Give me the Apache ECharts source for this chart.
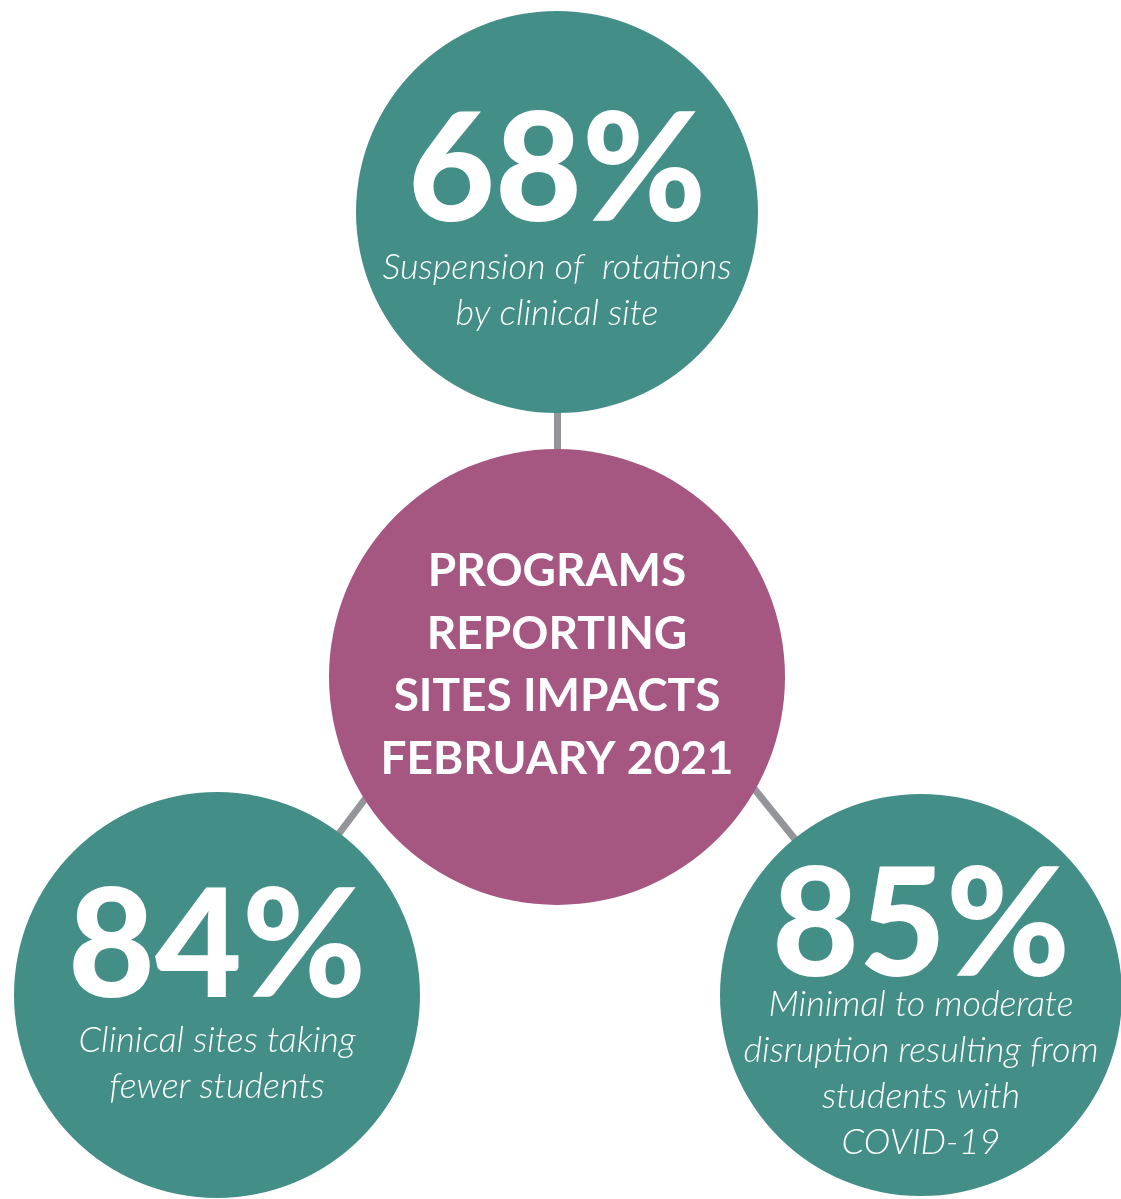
<!DOCTYPE html>
<html>
<head>
<meta charset="utf-8">
<title>Programs reporting sites impacts</title>
<script src="https://cdn.jsdelivr.net/npm/echarts@6/dist/echarts.min.js"></script>
<style>
  html, body { margin: 0; padding: 0; background: #fff; }
  #chart { width: 1121px; height: 1199px; }
</style>
</head>
<body>
<div id="chart"></div>
<script>
// data
const hubTitle = ['PROGRAMS', 'REPORTING', 'SITES IMPACTS', 'FEBRUARY 2021']
const statValues = [68, 84, 85]
const statLabels = [
  ['Suspension of  rotations', 'by clinical site'],
  ['Clinical sites taking', 'fewer students'],
  ['Minimal to moderate', 'disruption resulting from', 'students with', 'COVID-19']
]

// layout (page pixels, hub first then the three stats)
const nodeX = [557, 557, 217, 921]
const nodeY = [677, 212, 995, 995]
const nodeSize = [456, 402, 406, 402]
const bigLineHeight = [142, 136, 106]
const labelOffset = [7, 0, 25]
// connector lines meet behind the hub, a bit above its centre
const joinX = 557
const joinY = 545

const TEAL = '#438e87'
const PURPLE = '#a55782'
const LINK = '#939598'

const chart = echarts.init(document.getElementById('chart'))

const nodes = [{
  name: 'join',
  value: [joinX, joinY],
  symbolSize: 0,
  label: { show: false }
}, {
  name: 'hub',
  value: [nodeX[0], nodeY[0]],
  symbolSize: nodeSize[0],
  itemStyle: { color: PURPLE },
  label: {
    show: true,
    formatter: hubTitle.join('\n'),
    color: '#fff',
    fontFamily: 'Lato',
    fontWeight: 'bold',
    fontSize: 46,
    lineHeight: 62.5,
    offset: [0, -12]
  }
}]

statValues.forEach((v, i) => {
  nodes.push({
    name: 'stat' + i,
    value: [nodeX[i + 1], nodeY[i + 1]],
    symbolSize: nodeSize[i + 1],
    itemStyle: { color: TEAL },
    label: {
      show: true,
      formatter: '{big|' + v + '%}\n' + statLabels[i].map(s => '{sub|' + s + '}').join('\n'),
      offset: [0, labelOffset[i]],
      rich: {
        big: {
          color: '#fff',
          fontFamily: 'Lato',
          fontWeight: 900,
          fontSize: 150,
          lineHeight: bigLineHeight[i]
        },
        sub: {
          color: '#fff',
          fontFamily: 'Lato',
          fontStyle: 'italic',
          fontWeight: 300,
          fontSize: 36,
          lineHeight: 46
        }
      }
    }
  })
})

const links = statValues.map((v, i) => ({ source: 'join', target: 'stat' + i }))

chart.setOption({
  animation: false,
  backgroundColor: '#fff',
  grid: { left: 0, right: 0, top: 0, bottom: 0 },
  xAxis: { type: 'value', min: 0, max: 1121, show: false },
  yAxis: { type: 'value', min: 0, max: 1199, inverse: true, show: false },
  series: [{
    type: 'graph',
    coordinateSystem: 'cartesian2d',
    layout: 'none',
    symbol: 'circle',
    data: nodes,
    links: links,
    lineStyle: { color: LINK, width: 7, opacity: 1 },
    emphasis: { disabled: true },
    silent: true
  }]
})
</script>
</body>
</html>
